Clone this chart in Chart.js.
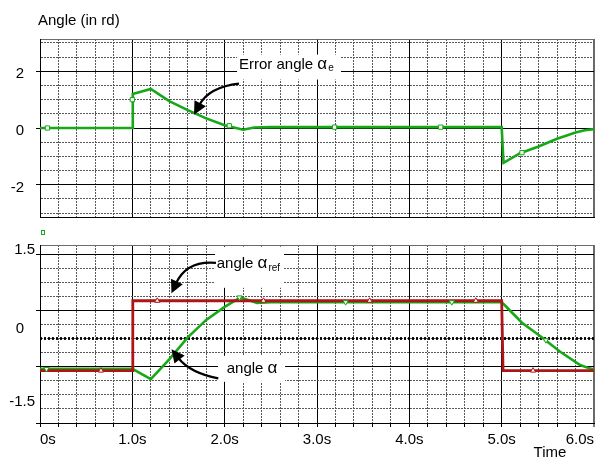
<!DOCTYPE html>
<html>
<head>
<meta charset="utf-8">
<script src="https://cdn.jsdelivr.net/npm/chart.js@4.4.1/dist/chart.umd.min.js"></script>
<style>
  html, body { margin: 0; padding: 0; background: #fff; }
  #wrap { position: relative; width: 602px; height: 457px; overflow: hidden; }
  canvas { position: absolute; left: 0; }
  #topChart { top: 0; }
  #botChart { top: 228px; }
</style>
</head>
<body>
<div id="wrap">
  <canvas id="topChart" width="602" height="228"></canvas>
  <canvas id="botChart" width="602" height="229"></canvas>
</div>
<script>
const FONT = '"Liberation Sans", Arial, Helvetica, sans-serif';
Chart.defaults.font.family = FONT;
Chart.defaults.font.size = 15;
Chart.defaults.color = '#000';

// ---- time axis ----
const timeMajor  = [0, 1, 2, 3, 4, 5, 6];
const timeLabels = ['0s', '1.0s', '2.0s', '3.0s', '4.0s', '5.0s', '6.0s'];
const timeMinorStep = 0.2;

// ---- error angle αe (rd) ----
const errT = [0, 1.0, 1.005, 1.2, 1.4, 1.6, 1.8, 2.0, 2.2, 2.32, 2.5, 3.0, 4.0, 5.0, 5.02, 5.2, 5.4, 5.6, 5.8, 5.9, 6.0];
const errV = [0, 0, 1.2, 1.38, 0.95, 0.63, 0.34, 0.1, -0.06, 0.02, 0.03, 0.03, 0.03, 0.03, -1.23, -0.89, -0.65, -0.38, -0.16, -0.08, -0.04];
const errMarkT = [0.08, 1.0, 2.05, 3.19, 4.34, 5.22];
const errMarkV = [0, 1.0, 0.08, 0.03, 0.03, -0.87];

// ---- angle α (rd) ----
const alphaT = [0, 1.0, 1.2, 1.4, 1.6, 1.8, 2.0, 2.17, 2.35, 2.5, 5.0, 5.1, 5.22, 5.42, 5.63, 5.85, 5.95, 6.0];
const alphaV = [-0.54, -0.54, -0.72, -0.37, 0.02, 0.33, 0.56, 0.73, 0.63, 0.645, 0.645, 0.48, 0.28, 0.04, -0.23, -0.47, -0.53, -0.545];
const alphaMarkT = [0.07, 2.16, 3.31, 4.46, 5.48];
const alphaMarkV = [-0.54, 0.73, 0.645, 0.645, -0.03];

// ---- reference angle αref (rd) ----
const refT = [0, 1.0, 1.005, 5.0, 5.015, 6.0];
const refV = [-0.57, -0.57, 0.67, 0.67, -0.57, -0.57];
const refMarkT = [0.66, 1.27, 2.42, 3.57, 4.72, 5.34];
const refMarkV = [-0.57, 0.67, 0.67, 0.67, 0.67, -0.57];

// zero reference trace
const zeroT = [0, 6];
const zeroV = [0, 0];

// ---- value axes ----
const topRange = [-3.14, 3.14];
const topMajor = [-2, 0, 2];
const topMinorStep = 0.5;
const topTickVals = [2, 0, -2];
const topTickLabels = ['2', '0', '-2'];

const botRange = [-1.5, 1.66];
const botMajor = [1.5, 0.5, -0.5, -1.5];
const botMinorStep = 0.25;
const botTickVals = [1.5, 0, -1.5];
const botTickLabels = ['1.5', '0', '-1.5'];

// ---- styles ----
const GREEN = '#16a816';
const RED = '#ad1616';
const MINOR = '#585858';
const EDGE = '#6a6a6a';

function pts(ts, vs) { return ts.map((t, i) => ({ x: t, y: vs[i] })); }
function near(v, list) { return list.some(m => Math.abs(m - v) < 1e-6); }
function stepValues(from, to, step) {
  const out = [];
  for (let v = from; v <= to + 1e-9; v += step) out.push(Math.round(v * 1000) / 1000);
  return out;
}

const xGridVals = stepValues(0, 6, timeMinorStep);

function xScale(bottom) {
  return {
    type: 'linear', min: 0, max: 6,
    afterBuildTicks: s => { s.ticks = xGridVals.map(v => ({ value: v })); },
    afterFit: s => { s.height = bottom ? 34 : 0; s.paddingLeft = 0; s.paddingRight = 0; },
    ticks: {
      display: bottom, autoSkip: false, maxRotation: 0, minRotation: 0,
      align: 'inner', padding: 4, font: { size: 15 },
      callback: v => {
        const i = timeMajor.findIndex(m => Math.abs(m - v) < 1e-6);
        return i >= 0 ? timeLabels[i] : '';
      }
    },
    grid: {
      color: c => !c.tick ? '#000' : (Math.abs(c.tick.value - 6) < 1e-6 ? EDGE : (near(c.tick.value, timeMajor) ? '#000' : MINOR)),
      lineWidth: c => (c.tick && Math.abs(c.tick.value - 6) < 1e-6) ? 2 : 1,
      drawTicks: bottom, tickLength: 4, tickWidth: 1, tickBorderDash: [],
      tickColor: '#000'
    },
    border: {
      display: true, color: '#000', width: 1,
      dash: c => (c.tick && !near(c.tick.value, timeMajor)) ? [2, 1] : []
    }
  };
}

function yScale(range, majors, step, anchorFrom, anchorTo) {
  const edges = [range[0], range[1]].filter(v => !near(v, majors));
  const vals = stepValues(anchorFrom, anchorTo, step);
  edges.forEach(e => { if (!near(e, vals)) vals.push(e); });
  return {
    type: 'linear', min: range[0], max: range[1],
    afterBuildTicks: s => { s.ticks = vals.map(v => ({ value: v })); },
    afterFit: s => { s.width = 40; s.paddingTop = 0; s.paddingBottom = 0; },
    ticks: { display: false },
    grid: {
      color: c => !c.tick ? '#000' : (near(c.tick.value, edges) ? (c.tick.value < 0 ? '#000' : EDGE) : (near(c.tick.value, majors) ? '#000' : MINOR)),
      lineWidth: 1,
      drawTicks: true, tickLength: 4, tickWidth: 1, tickBorderDash: [],
      tickColor: c => (c.tick && near(c.tick.value, majors)) ? '#000' : 'rgba(0,0,0,0)'
    },
    border: {
      display: true, color: '#000', width: 1,
      dash: c => (c.tick && !near(c.tick.value, majors) && !near(c.tick.value, edges)) ? [2, 1] : []
    }
  };
}

// labels, arrows and value-axis captions
function notesPlugin(cfg) {
  return {
    id: 'notes',
    beforeDatasetsDraw(chart) {
      const { ctx, scales: { x, y } } = chart;
      ctx.save();
      ctx.fillStyle = '#fff';
      cfg.notes.forEach(n => {
        const X0 = x.getPixelForValue(n.box[0]), Y0 = y.getPixelForValue(n.box[1]);
        const X1 = x.getPixelForValue(n.box[2]), Y1 = y.getPixelForValue(n.box[3]);
        ctx.fillRect(X0, Y0, X1 - X0, Y1 - Y0);
      });
      ctx.restore();
    },
    afterDatasetsDraw(chart) {
      const { ctx, scales: { x, y } } = chart;
      const P = a => [x.getPixelForValue(a[0]), y.getPixelForValue(a[1])];
      ctx.save();
      cfg.notes.forEach(n => {
        let [tx, ty] = P(n.at);
        ctx.fillStyle = '#000';
        ctx.textBaseline = 'alphabetic';
        ctx.textAlign = 'left';
        ctx.font = '15px ' + FONT;
        ctx.fillText(n.text, tx, ty);
        tx += ctx.measureText(n.text).width;
        ctx.font = '17px ' + FONT;
        ctx.fillText(n.greek, tx, ty);
        tx += ctx.measureText(n.greek).width + 1;
        ctx.font = '10px ' + FONT;
        if (n.sub) ctx.fillText(n.sub, tx, ty + n.subDy);

        const [ax, ay] = P(n.arrow.from);
        const [cx, cy] = P(n.arrow.ctrl);
        const [px, py] = P(n.arrow.to);
        let dx = px - cx, dy = py - cy;
        const L = Math.hypot(dx, dy); dx /= L; dy /= L;
        const head = 13, half = 6.5;
        const bx = px - dx * head, by = py - dy * head;
        ctx.strokeStyle = '#000';
        ctx.lineWidth = 2.2;
        ctx.beginPath();
        ctx.moveTo(ax, ay);
        ctx.quadraticCurveTo(cx, cy, bx + dx * 2, by + dy * 2);
        ctx.stroke();
        ctx.beginPath();
        ctx.moveTo(px, py);
        ctx.lineTo(bx - dy * half, by + dx * half);
        ctx.lineTo(bx + dy * half, by - dx * half);
        ctx.closePath();
        ctx.fill();
      });
      ctx.restore();
    },
    afterDraw(chart) {
      const { ctx, chartArea, scales: { y } } = chart;
      ctx.save();
      ctx.fillStyle = '#000';
      ctx.font = '15px ' + FONT;
      ctx.textAlign = 'right';
      ctx.textBaseline = 'middle';
      cfg.yLabels.forEach(l => {
        ctx.fillText(l.text, chartArea.left - l.gap, y.getPixelForValue(l.v) + l.dy);
      });
      ctx.textBaseline = 'alphabetic';
      (cfg.captions || []).forEach(c => {
        ctx.textAlign = c.align || 'left';
        ctx.fillText(c.text, c.x, c.y);
      });
      if (cfg.legendMark) {
        ctx.strokeStyle = GREEN;
        ctx.lineWidth = 1;
        const m = cfg.legendMark;
        ctx.strokeRect(m[0], m[1], m[2], m[3]);
      }
      ctx.restore();
    }
  };
}

const common = {
  responsive: false,
  animation: false,
  events: [],
  plugins: { legend: { display: false }, tooltip: { enabled: false }, title: { display: false } },
  elements: { line: { tension: 0 } }
};

// ---- top chart: error angle ----
new Chart(document.getElementById('topChart'), {
  type: 'line',
  data: {
    datasets: [
      {
        label: 'αe markers', data: pts(errMarkT, errMarkV), showLine: false,
        pointStyle: 'rect', pointRadius: 3, pointBorderWidth: 1,
        pointBorderColor: GREEN, pointBackgroundColor: '#fff', order: 0
      },
      {
        label: 'Error angle αe', data: pts(errT, errV),
        borderColor: GREEN, borderWidth: 2.6, pointRadius: 0, fill: false, order: 1
      }
    ]
  },
  options: Object.assign({}, common, {
    layout: { padding: { top: 39, right: 8, bottom: 11, left: 0 } },
    scales: {
      x: xScale(false),
      y: yScale(topRange, topMajor, topMinorStep, -3, 3)
    }
  }),
  plugins: [notesPlugin({
    notes: [{
      text: 'Error angle ', greek: 'α', sub: 'e', subDy: 2,
      at: [2.155, 2.095],
      box: [2.134, 2.59, 3.26, 1.71],
      arrow: { from: [2.155, 1.565], ctrl: [1.83, 1.442], to: [1.668, 0.47] }
    }],
    yLabels: topTickVals.map((v, i) => ({ v, text: topTickLabels[i], gap: 16, dy: 3 })),
    captions: [{ text: 'Angle (in rd)', x: 38, y: 25 }]
  })]
});

// ---- bottom chart: reference and actual angle ----
new Chart(document.getElementById('botChart'), {
  type: 'line',
  data: {
    datasets: [
      {
        label: 'αref markers', data: pts(refMarkT, refMarkV), showLine: false,
        pointStyle: 'triangle', pointRadius: 3, pointBorderWidth: 1,
        pointBorderColor: RED, pointBackgroundColor: '#fff', order: 0
      },
      {
        label: 'α markers', data: pts(alphaMarkT, alphaMarkV), showLine: false,
        pointStyle: 'triangle', pointRotation: 180, pointRadius: 3, pointBorderWidth: 1,
        pointBorderColor: GREEN, pointBackgroundColor: '#fff', order: 0
      },
      {
        label: 'angle αref', data: pts(refT, refV),
        borderColor: RED, borderWidth: 2.8, pointRadius: 0, fill: false, order: 1
      },
      {
        label: 'angle α', data: pts(alphaT, alphaV),
        borderColor: GREEN, borderWidth: 2.6, pointRadius: 0, fill: false, order: 2
      },
      {
        label: 'zero', data: pts(zeroT, zeroV),
        borderColor: '#000', borderWidth: 2.8, borderDash: [2, 2], borderCapStyle: 'butt',
        pointRadius: 0, fill: false, order: 3
      }
    ]
  },
  options: Object.assign({}, common, {
    layout: { padding: { top: 17, right: 8, bottom: 0, left: 0 } },
    scales: {
      x: xScale(true),
      y: yScale(botRange, botMajor, botMinorStep, -1.5, 1.5)
    }
  }),
  plugins: [notesPlugin({
    notes: [
      {
        text: 'angle ', greek: 'α', sub: 'ref', subDy: 3.5,
        at: [1.914, 1.255],
        box: [1.896, 1.628, 2.643, 0.90],
        arrow: { from: [1.906, 1.344], ctrl: [1.587, 1.388], to: [1.424, 0.802] }
      },
      {
        text: 'angle ', greek: 'α', sub: '', subDy: 0,
        at: [2.022, -0.609],
        box: [1.928, -0.307, 2.654, -0.769],
        arrow: { from: [1.931, -0.707], ctrl: [1.625, -0.609], to: [1.424, -0.192] }
      }
    ],
    yLabels: [
      { v: botTickVals[0], text: botTickLabels[0], gap: 5, dy: -4.5 },
      { v: botTickVals[1], text: botTickLabels[1], gap: 16, dy: -9.4 },
      { v: botTickVals[2], text: botTickLabels[2], gap: 5, dy: -21 }
    ],
    captions: [{ text: 'Time', x: 550, y: 228.5, align: 'center' }],
    legendMark: [41.5, 2.5, 3, 4]
  })]
});
</script>
</body>
</html>
